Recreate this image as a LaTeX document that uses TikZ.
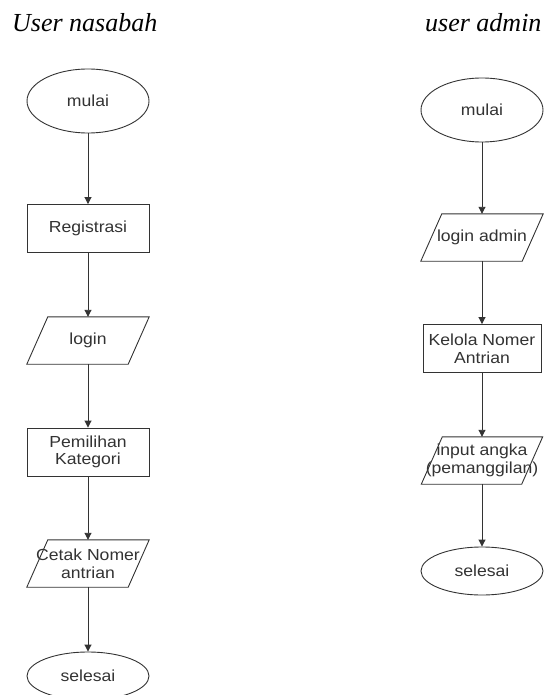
\documentclass[tikz,border=0pt]{standalone}
\usepackage{fontspec}
\setmainfont{Liberation Sans}[FakeStretch=1.1]
\newfontfamily\titlefont{Liberation Serif}
\usetikzlibrary{arrows.meta,shapes.geometric}
\definecolor{linecol}{HTML}{333333}
\definecolor{txtcol}{HTML}{333333}
\newcommand\ioshape[1]{%
  \draw[outline] ([xshift=21pt]#1.north west) -- (#1.north east)
    -- ([xshift=-21pt]#1.south east) -- (#1.south west) -- cycle;}
\begin{document}
\begin{tikzpicture}[x=1pt,y=-1pt,
  every node/.style={font=\fontsize{16}{17.7}\selectfont, text=txtcol, align=center, inner sep=0pt},
  outline/.style={draw=linecol, line width=0.9pt},
  term/.style={ellipse, outline, minimum width=122pt, minimum height=64pt},
  proc/.style={rectangle, outline, minimum width=122pt, minimum height=48pt},
  io/.style={rectangle, minimum width=122pt, minimum height=47pt},
  flow/.style={draw=linecol, line width=0.9pt, -{Triangle[width=7pt,length=7pt]}},
  title/.style={font=\titlefont\itshape\fontsize{26}{30}\selectfont, text=black, anchor=base west}
]
\clip (0,0) rectangle (544,695);
\fill[white] (0,0) rectangle (544,695);

% titles
\node[title] (t1) at (12,32) {User nasabah};
\node[title] (t2) at (425,32) {user admin};

% left column
\node[term] (m1) at (88,101) {mulai};
\node[proc] (reg) at (88,228.5) {Registrasi};
\node[io] (log) at (88,340.5) {login};
\node[proc] (pem) at (88,452) {Pemilihan\\Kategori};
\node[io] (cet) at (88,563.5) {Cetak Nomer\\antrian};
\node[term, minimum height=48pt] (s1) at (88,676) {selesai};
\ioshape{log}
\ioshape{cet}

\draw[flow] (m1.south) -- (reg.north);
\draw[flow] (reg.south) -- (log.north);
\draw[flow] (log.south) -- (pem.north);
\draw[flow] (pem.south) -- (cet.north);
\draw[flow] (cet.south) -- (s1.north);

% right column
\node[term] (m2) at (482,110) {mulai};
\node[io] (la) at (482,237.5) {login admin};
\node[proc, minimum width=118pt] (kel) at (482,348.5) {Kelola Nomer\\Antrian};
\node[io, minimum width=121pt] (inp) at (482,460.5) {input angka\\(pemanggilan)};
\node[term, minimum height=48pt] (s2) at (482,571) {selesai};
\ioshape{la}
\ioshape{inp}

\draw[flow] (m2.south) -- (la.north);
\draw[flow] (la.south) -- (kel.north);
\draw[flow] (kel.south) -- (inp.north);
\draw[flow] (inp.south) -- (s2.north);
\end{tikzpicture}
\end{document}
